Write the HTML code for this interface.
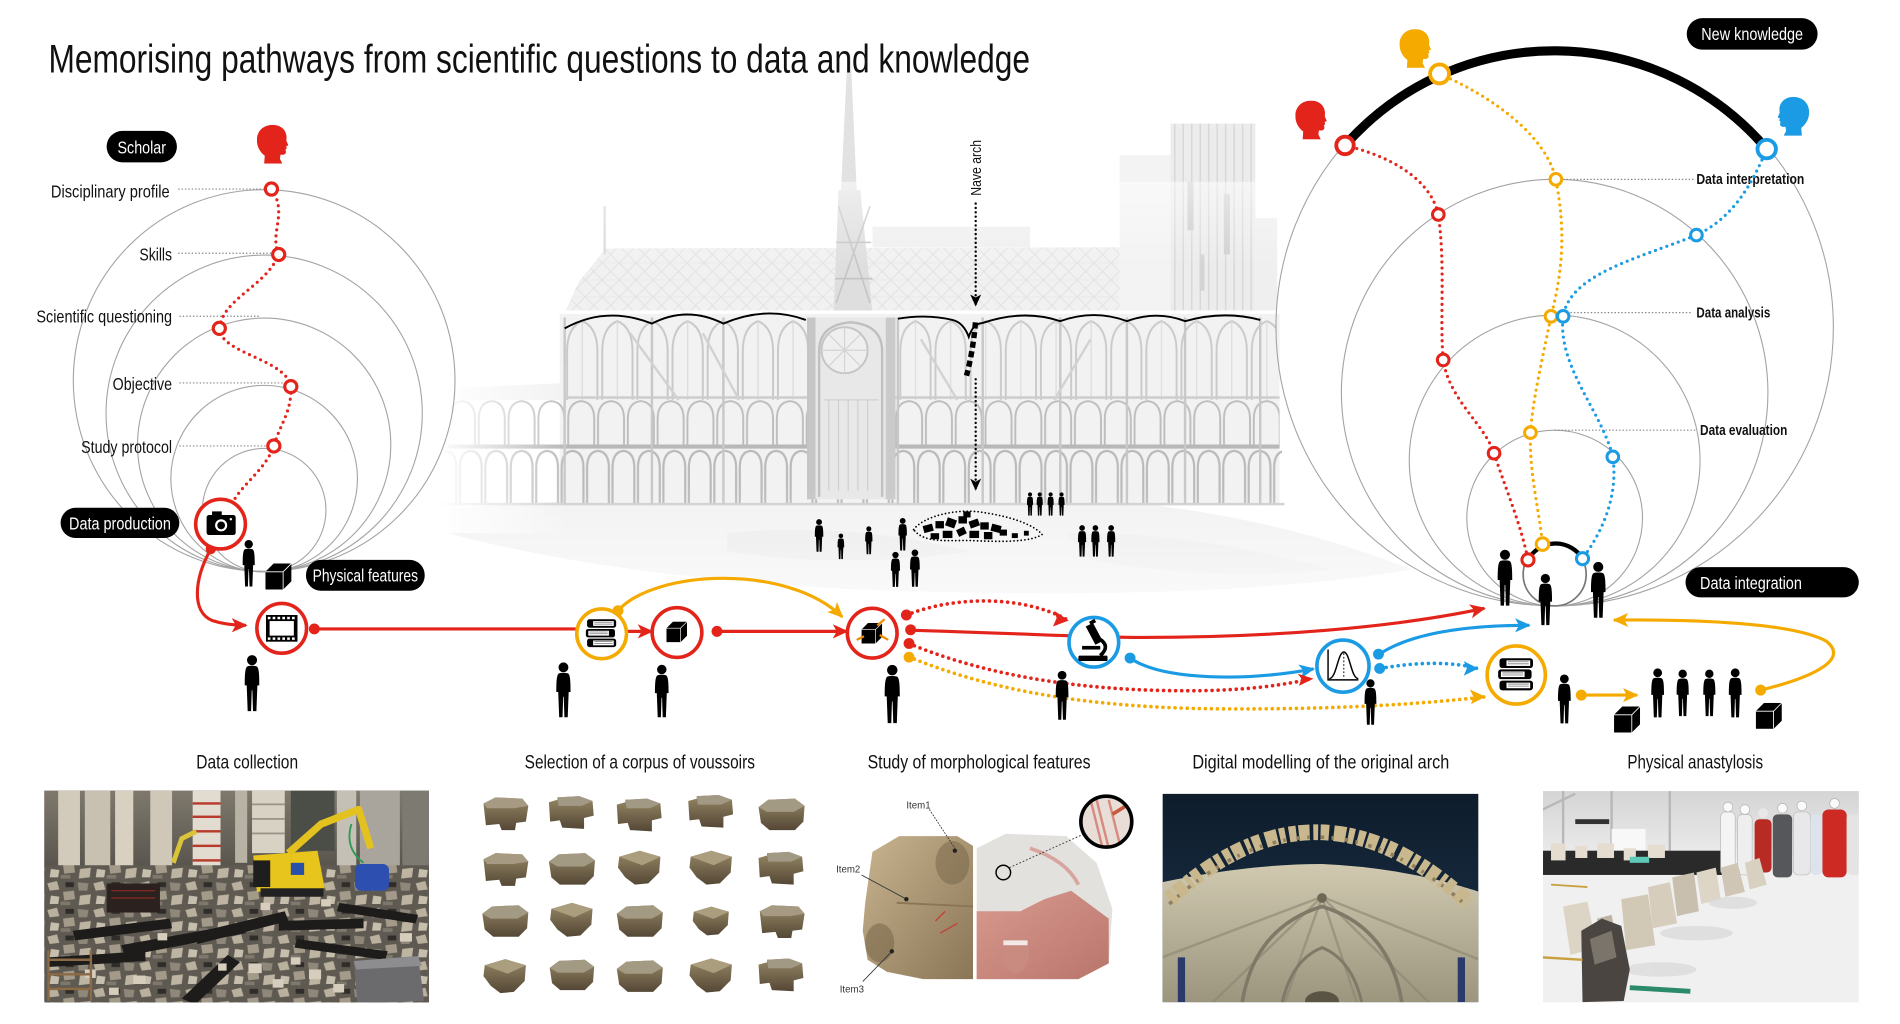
<!DOCTYPE html>
<html><head><meta charset="utf-8"><style>
html,body{margin:0;padding:0;background:#fff;overflow:hidden;}
svg{display:block;}
</style></head><body>
<svg width="1900" height="1024" viewBox="0 0 1568 845" preserveAspectRatio="none" xmlns="http://www.w3.org/2000/svg" xmlns:xlink="http://www.w3.org/1999/xlink" font-family="'Liberation Sans Narrow','Liberation Sans',sans-serif">
<defs>
<marker id="mR" viewBox="0 0 10 10" refX="9" refY="5" markerWidth="13" markerHeight="13" markerUnits="userSpaceOnUse" orient="auto"><path d="M0,0.5 L10,5 L0,9.5 L2.5,5 Z" fill="#e3241b"/></marker>
<marker id="mY" viewBox="0 0 10 10" refX="9" refY="5" markerWidth="13" markerHeight="13" markerUnits="userSpaceOnUse" orient="auto"><path d="M0,0.5 L10,5 L0,9.5 L2.5,5 Z" fill="#f5aa00"/></marker>
<marker id="mB" viewBox="0 0 10 10" refX="9" refY="5" markerWidth="13" markerHeight="13" markerUnits="userSpaceOnUse" orient="auto"><path d="M0,0.5 L10,5 L0,9.5 L2.5,5 Z" fill="#1b9be4"/></marker>
<marker id="mK" viewBox="0 0 10 10" refX="9" refY="5" markerWidth="10" markerHeight="10" markerUnits="userSpaceOnUse" orient="auto"><path d="M0,0.5 L10,5 L0,9.5 L2.5,5 Z" fill="#000"/></marker>

<symbol id="p" viewBox="0 0 20 60"><circle cx="10" cy="6" r="5.2"/><path d="M5,12.5 C7,11.5 13,11.5 15,12.5 C17,14 17.5,20 17.5,32 L15.5,32 L14.5,58.5 L11,58.5 L10.3,37 L9.7,37 L9,58.5 L5.5,58.5 L4.5,32 L2.5,32 C2.5,20 3,14 5,12.5 Z"/></symbol>
<symbol id="cube" viewBox="0 0 22 22"><polygon points="0,7 7,0 22,0 22,15 15,22 0,22" fill="#000"/><polyline points="0,7 15,7 22,0" fill="none" stroke="#fff" stroke-width="0.7"/><line x1="15" y1="7" x2="15" y2="22" stroke="#fff" stroke-width="0.7"/></symbol>
<symbol id="head" viewBox="0 0 26 32"><path d="M6,32 L6.5,25.5 C2.5,22.5 0,18 0,12.5 C0,5 5.5,0 13,0 C20,0 24.5,4.5 24.5,10.5 L24.3,13 L26,17 L24.2,17.6 L24.6,19.6 L23.6,20.4 L24,22.2 C24,24.3 22.3,25 19.5,24.6 L19,28 L21,32 Z"/></symbol>

<linearGradient id="stoneG" x1="0" y1="0" x2="0" y2="1"><stop offset="0" stop-color="#978866"/><stop offset="1" stop-color="#544735"/></linearGradient>
<symbol id="s1" viewBox="0 0 40 30"><path d="M2,7 L12,2 L34,3 L39,9 L37,22 L29,23 L28,29 L17,29 L15,24 L4,25 Z" fill="url(#stoneG)"/><path d="M2,7 L12,2 L34,3 L39,9 L27,11 L5,11 Z" fill="#a69b82"/></symbol>
<symbol id="s2" viewBox="0 0 40 30"><path d="M1,9 L9,3 L31,2 L39,8 L38,21 L31,28 L10,28 L3,22 Z" fill="url(#stoneG)"/><path d="M1,9 L9,3 L31,2 L39,8 L30,13 L8,13 Z" fill="#a39a84"/></symbol>
<symbol id="s3" viewBox="0 0 40 30"><path d="M3,6 L20,1 L37,6 L36,19 L27,28 L16,29 L8,23 L2,15 Z" fill="url(#stoneG)"/><path d="M3,6 L20,1 L37,6 L22,13 Z" fill="#ab9e7e"/></symbol>
<symbol id="s4" viewBox="0 0 40 30"><path d="M1,6 L8,4 L8,2 L26,1 L37,5 L38,17 L30,19 L30,28 L12,27 L10,21 L2,22 Z" fill="url(#stoneG)"/><path d="M8,2 L26,1 L37,5 L28,9 L9,9 Z" fill="#a29985"/></symbol>

<pattern id="rub" width="38" height="22" patternUnits="userSpaceOnUse">
<rect width="38" height="22" fill="#5e5951"/>
<path d="M1,3 L9,1 L11,8 L3,9 Z" fill="#b9b09e"/>
<path d="M14,10 L23,9 L24,16 L15,17 Z" fill="#a39a89"/>
<path d="M26,2 L35,3 L34,9 L27,9 Z" fill="#8e877a"/>
<path d="M4,13 L11,14 L10,20 L3,20 Z" fill="#c7bfae"/>
<rect x="16" y="2" width="7" height="4" fill="#2f2c29"/>
<path d="M28,13 L37,12 L36,20 L27,21 Z" fill="#bdb4a2"/>
<rect x="12" y="18" width="8" height="3" fill="#7f786d"/>
</pattern>

<pattern id="bayL" x="466" y="264" width="29" height="66" patternUnits="userSpaceOnUse"><path d="M2,66 V26 Q2,6 14.5,1 Q27,6 27,26 V66" fill="none" stroke="#c8c8c8" stroke-width="1.6"/><path d="M14.5,1 V66" stroke="#dadada" stroke-width="1"/></pattern>
<pattern id="bayR" x="741" y="264" width="29" height="66" patternUnits="userSpaceOnUse"><path d="M2,66 V26 Q2,6 14.5,1 Q27,6 27,26 V66" fill="none" stroke="#cacaca" stroke-width="1.6"/><path d="M14.5,1 V66" stroke="#dcdcdc" stroke-width="1"/></pattern>
<pattern id="tri" x="0" y="330" width="24.6" height="37" patternUnits="userSpaceOnUse"><path d="M1.5,37 V16 Q1.5,2 12.3,1 Q23,2 23,16 V37" fill="none" stroke="#bdbdbd" stroke-width="1.6"/></pattern>
<pattern id="arc" x="0" y="371" width="21" height="45" patternUnits="userSpaceOnUse"><path d="M1.5,45 V15 Q1.5,2 10.5,1 Q19.5,2 19.5,15 V45" fill="none" stroke="#bababa" stroke-width="1.8"/></pattern>
<pattern id="lat" x="0" y="0" width="14" height="14" patternUnits="userSpaceOnUse"><path d="M0,14 L14,0 M0,0 L14,14" stroke="#e0e0e0" stroke-width="0.7"/><path d="M0,7 H14" stroke="#e4e4e4" stroke-width="0.5"/></pattern>
<pattern id="vl" x="0" y="0" width="7" height="20" patternUnits="userSpaceOnUse"><path d="M3.5,0 V20" stroke="#d8d8d8" stroke-width="1.2"/></pattern>

<linearGradient id="fadeL" x1="0" y1="0" x2="1" y2="0"><stop offset="0" stop-color="#fff" stop-opacity="1"/><stop offset="1" stop-color="#fff" stop-opacity="0"/></linearGradient>
<linearGradient id="fadeB" x1="0" y1="0" x2="0" y2="1"><stop offset="0" stop-color="#fff" stop-opacity="0"/><stop offset="1" stop-color="#fff" stop-opacity="1"/></linearGradient>
<linearGradient id="fadeT" x1="0" y1="0" x2="0" y2="1"><stop offset="0" stop-color="#fff" stop-opacity="1"/><stop offset="1" stop-color="#fff" stop-opacity="0"/></linearGradient>
<linearGradient id="navy" x1="0" y1="0" x2="0" y2="1"><stop offset="0" stop-color="#0e1c2b"/><stop offset="1" stop-color="#1c354d"/></linearGradient>
<linearGradient id="vault" x1="0" y1="0" x2="0" y2="1"><stop offset="0" stop-color="#d0c9b0"/><stop offset="1" stop-color="#9c957e"/></linearGradient>
<linearGradient id="tent" x1="0" y1="0" x2="0" y2="1"><stop offset="0" stop-color="#d4d4d4"/><stop offset="1" stop-color="#ececec"/></linearGradient>
<linearGradient id="leftSt" x1="0" y1="0" x2="1" y2="1"><stop offset="0" stop-color="#c8b48f"/><stop offset="1" stop-color="#8a7656"/></linearGradient>
<linearGradient id="pink" x1="0" y1="0" x2="1" y2="1"><stop offset="0" stop-color="#d99a90"/><stop offset="1" stop-color="#b9756b"/></linearGradient>
<linearGradient id="top1" x1="0" y1="0" x2="0" y2="1"><stop offset="0" stop-color="#7f796d"/><stop offset="1" stop-color="#55514a"/></linearGradient>

<clipPath id="c1"><rect x="36.6" y="652.5" width="317.4" height="174.7"/></clipPath>
<clipPath id="c4"><rect x="959.5" y="655" width="260.5" height="172"/></clipPath>
<clipPath id="c5"><rect x="1273.4" y="652.8" width="260.6" height="174.4"/></clipPath>
<clipPath id="cmag"><circle cx="913" cy="678" r="20"/></clipPath>
</defs>

<rect x="0" y="0" width="1568" height="845" fill="#fff"/>

<!-- ================= CATHEDRAL BACKGROUND ================= -->
<g>
  <path d="M370,420 Q600,402 800,410 Q1000,405 1165,470 Q1000,498 700,486 Q500,475 370,440 Z" fill="#f2f2f2"/>
  <path d="M600,440 Q700,430 800,455 Q700,470 600,455 Z" fill="#ebebeb"/>
  <path d="M880,440 Q980,438 1100,470 Q1000,480 900,462 Z" fill="#ededed"/>
  <!-- roof -->
  <polygon points="466,258 478,232 500,205 924,204 924,258" fill="#f1f1f1"/>
  <polygon points="466,258 478,232 500,205 924,204 924,258" fill="url(#lat)"/>
  <rect x="720" y="187" width="130" height="17" fill="#efefef"/>
  <line x1="499" y1="170" x2="499" y2="210" stroke="#dadada" stroke-width="2"/>
  <!-- spire -->
  <polygon points="699.5,45 702,45 707,157 694,157" fill="#e2e2e2"/>
  <polygon points="688,258 692,157 710,157 720,258" fill="#dedede"/>
  <path d="M692,170 L718,250 M718,170 L690,250 M690,200 H719 M689,230 H720" stroke="#c4c4c4" stroke-width="1.3" fill="none"/>
  <!-- tower -->
  <rect x="924" y="128" width="44" height="130" fill="#f3f3f3"/>
  <rect x="966" y="102" width="70" height="156" fill="#ececec"/>
  <rect x="966" y="102" width="70" height="156" fill="url(#vl)"/>
  <rect x="1036" y="180" width="18" height="78" fill="#efefef"/>
  <rect x="980" y="150" width="5" height="40" fill="#cdcdcd"/>
  <rect x="1010" y="160" width="5" height="50" fill="#d0d0d0"/>
  <rect x="990" y="210" width="4" height="30" fill="#d4d4d4"/>
  <!-- main wall -->
  <rect x="462" y="259" width="594" height="158" fill="#f2f2f2"/>
  <rect x="466" y="264" width="200" height="66" fill="url(#bayL)"/>
  <rect x="741" y="264" width="312" height="66" fill="url(#bayR)"/>
  <rect x="372" y="330" width="684" height="37" fill="url(#tri)"/>
  <rect x="366" y="371" width="692" height="45" fill="url(#arc)"/>
  <line x1="380" y1="328" x2="1056" y2="328" stroke="#cdcdcd" stroke-width="2"/>
  <line x1="370" y1="368.5" x2="1056" y2="368.5" stroke="#b8b8b8" stroke-width="3.5"/>
  <line x1="366" y1="416" x2="1060" y2="416" stroke="#d0d0d0" stroke-width="2"/>
  <!-- left aisle -->
  <polygon points="366,330 380,320 466,316 466,330" fill="#f2f2f2"/>
  <!-- facade -->
  <rect x="666" y="262" width="73" height="150" fill="#e8e8e8"/>
  <rect x="666" y="262" width="7" height="150" fill="#c6c6c6"/>
  <rect x="731" y="262" width="8" height="150" fill="#cacaca"/>
  <path d="M676,410 V290 Q676,268 702,266 Q728,268 728,290 V410" fill="none" stroke="#c0c0c0" stroke-width="2"/>
  <circle cx="697" cy="289" r="19" fill="#efefef" stroke="#c4c4c4" stroke-width="1.5"/>
  <path d="M678,289 H716 M697,270 V308 M684,276 L710,302 M710,276 L684,302" stroke="#d4d4d4" stroke-width="1"/>
  <path d="M680,330 H725 M684,330 V405 M692,330 V405 M700,330 V405 M708,330 V405 M716,330 V405" stroke="#d0d0d0" stroke-width="1"/>
  <!-- buttress verticals -->
  <path d="M466,262 V416 M538,262 V416 M597,262 V416 M741,262 V416 M811,262 V416 M875,262 V416 M930,262 V416 M978,262 V416 M1040,262 V416" stroke="#c8c8c8" stroke-width="2"/>
  <path d="M520,275 L560,330 M580,275 L610,330 M760,280 L790,330 M900,280 L870,330" stroke="#d2d2d2" stroke-width="2"/>
  <!-- white band -->
  <line x1="462" y1="257.5" x2="1056" y2="257.5" stroke="#fff" stroke-width="2.5"/>
  <!-- fades -->
  <rect x="360" y="300" width="110" height="140" fill="url(#fadeL)"/>
  <rect x="460" y="150" width="600" height="70" fill="url(#fadeT)" opacity="0.5"/>
  <rect x="360" y="405" width="820" height="90" fill="url(#fadeB)" opacity="0.6"/>
  <!-- black arch lines -->
  <path d="M466,271 Q500,252 538,267 Q567,252 597,267 Q632,252 665,264" fill="none" stroke="#000" stroke-width="1.6"/>
  <path d="M741,263 Q765,259 786,264 Q795,266 799.5,278 Q803,267 811,266.5 Q845,255 875,265 Q903,255 930,265 Q955,256 978,265 Q1010,256 1040,264" fill="none" stroke="#000" stroke-width="1.6"/>
</g>

<!-- Nave arch -->
<text transform="translate(809.5,138.5) rotate(-90)" text-anchor="middle" font-size="12.5" textLength="46" lengthAdjust="spacingAndGlyphs" fill="#111">Nave arch</text>
<path d="M805.2,168 L805.2,252" stroke="#000" stroke-width="2" stroke-dasharray="0 3.6" stroke-linecap="round" marker-end="url(#mK)"/>
<path d="M805,266 Q803,290 797.6,310" stroke="#000" stroke-width="4.5" stroke-dasharray="5 3" fill="none"/>
<path d="M805.2,313 L805.2,404" stroke="#000" stroke-width="2" stroke-dasharray="0 3.6" stroke-linecap="round" marker-end="url(#mK)"/>

<!-- voussoir pile -->
<path d="M754,437 C762,426 790,419 812,423 C832,426 852,432 860,441 C850,448 822,447 800,446 C780,446 762,448 754,437 Z" fill="none" stroke="#000" stroke-width="1.5" stroke-dasharray="0 3" stroke-linecap="round"/>
<g fill="#000">
<rect x="762" y="433" width="8" height="6" transform="rotate(-15 766 436)"/><rect x="772" y="430" width="7" height="6"/><rect x="781" y="428" width="8" height="7" transform="rotate(20 785 431)"/><rect x="791" y="426" width="7" height="6"/><rect x="800" y="429" width="8" height="6" transform="rotate(-20 804 432)"/><rect x="809" y="431" width="7" height="6"/><rect x="818" y="433" width="8" height="6" transform="rotate(15 822 436)"/><rect x="768" y="440" width="7" height="5"/><rect x="778" y="438" width="8" height="6"/><rect x="790" y="436" width="7" height="6" transform="rotate(-25 793 439)"/><rect x="800" y="438" width="8" height="6"/><rect x="812" y="439" width="7" height="6"/><rect x="825" y="437" width="6" height="5"/><rect x="835" y="440" width="5" height="4"/><rect x="845" y="438" width="4" height="4"/><rect x="795" y="422" width="6" height="5"/>
</g>

<!-- ================= LEFT CIRCLES ================= -->
<g fill="none" stroke="#a3a3a3" stroke-width="0.9">
  <circle cx="218" cy="314" r="157.5"/>
  <circle cx="218" cy="341" r="130.5"/>
  <circle cx="218" cy="367" r="104.5"/>
  <circle cx="218" cy="395" r="77"/>
  <circle cx="218" cy="421" r="51"/>
</g>
<g stroke="#888" stroke-width="1" stroke-dasharray="1.2 1.6" fill="none">
  <path d="M147,156 H219"/><path d="M147,209 H225"/><path d="M148,261 H214"/><path d="M148,316 H236"/><path d="M148,368 H221"/>
</g>
<g font-size="14.5" fill="#111" text-anchor="end">
  <text x="140" y="163" textLength="98" lengthAdjust="spacingAndGlyphs">Disciplinary profile</text>
  <text x="142" y="215" textLength="27" lengthAdjust="spacingAndGlyphs">Skills</text>
  <text x="142" y="266" textLength="112" lengthAdjust="spacingAndGlyphs">Scientific questioning</text>
  <text x="142" y="322" textLength="49" lengthAdjust="spacingAndGlyphs">Objective</text>
  <text x="142" y="374" textLength="75" lengthAdjust="spacingAndGlyphs">Study protocol</text>
</g>
<path d="M224,156 C238,176 222,192 230,210 C220,236 184,246 181,271 C182,292 236,296 240,319 C241,340 231,350 226,368 C220,386 200,400 193,413" fill="none" stroke="#e3241b" stroke-width="2.6" stroke-dasharray="0 5" stroke-linecap="round"/>
<g fill="#fff" stroke="#e3241b" stroke-width="2.6">
  <circle cx="224" cy="156" r="5"/><circle cx="230" cy="210" r="5"/><circle cx="181" cy="271" r="5"/><circle cx="240" cy="319" r="5"/><circle cx="226" cy="368" r="5"/>
</g>
<use href="#head" xlink:href="#head" x="212" y="103" width="26" height="32" fill="#e3241b"/>
<rect x="88" y="108" width="58" height="26" rx="13" fill="#000"/>
<text x="117" y="126.5" text-anchor="middle" font-size="14.5" fill="#fff" textLength="40" lengthAdjust="spacingAndGlyphs">Scholar</text>

<rect x="50" y="419" width="98" height="25" rx="12.5" fill="#000"/>
<text x="99" y="437" text-anchor="middle" font-size="14.5" fill="#fff" textLength="84" lengthAdjust="spacingAndGlyphs">Data production</text>
<rect x="252.5" y="462" width="98" height="25.5" rx="12.5" fill="#000"/>
<text x="301.5" y="480" text-anchor="middle" font-size="14.5" fill="#fff" textLength="87" lengthAdjust="spacingAndGlyphs">Physical features</text>

<!-- ================= RIGHT CIRCLES ================= -->
<g fill="none" stroke="#a3a3a3" stroke-width="0.9">
  <circle cx="1283" cy="270" r="230"/>
  <circle cx="1283" cy="324" r="176"/>
  <circle cx="1283" cy="380" r="120"/>
  <circle cx="1283" cy="427.5" r="72.5"/>
</g>
<circle cx="1283" cy="474" r="26" fill="none" stroke="#777" stroke-width="1.4"/>
<path d="M1110,120 A230,230 0 0 1 1458,123" fill="none" stroke="#000" stroke-width="7.5"/>
<path d="M1261,462 A26,26 0 0 1 1306,461" fill="none" stroke="#000" stroke-width="3.5"/>
<g stroke="#888" stroke-width="1" stroke-dasharray="1.2 1.6" fill="none">
  <path d="M1290,148 H1398"/><path d="M1296,258 H1396"/><path d="M1283,355 H1400"/>
</g>
<g font-size="12" font-weight="bold" fill="#111" font-family="'Liberation Sans',sans-serif">
  <text x="1400" y="152" textLength="89" lengthAdjust="spacingAndGlyphs">Data interpretation</text>
  <text x="1400" y="262" textLength="61" lengthAdjust="spacingAndGlyphs">Data analysis</text>
  <text x="1403" y="359" textLength="72" lengthAdjust="spacingAndGlyphs">Data evaluation</text>
</g>
<path d="M1188,61 C1232,80 1276,112 1284,148 C1292,190 1290,222 1280,261 C1272,300 1265,330 1263,357 C1262,390 1270,420 1273,449" fill="none" stroke="#f5aa00" stroke-width="2.6" stroke-dasharray="0 5" stroke-linecap="round"/>
<path d="M1110,120 C1152,130 1181,150 1187,177 C1193,220 1188,262 1191,297 C1196,330 1225,350 1233,374 C1242,402 1255,432 1261,462" fill="none" stroke="#e3241b" stroke-width="2.6" stroke-dasharray="0 5" stroke-linecap="round"/>
<path d="M1458,123 C1446,152 1430,180 1400,194 C1350,214 1296,226 1290,261 C1285,302 1322,340 1331,377 C1336,412 1320,442 1306,461" fill="none" stroke="#1b9be4" stroke-width="2.6" stroke-dasharray="0 5" stroke-linecap="round"/>
<g fill="#fff" stroke-width="3.2">
  <circle cx="1110" cy="120" r="7.2" stroke="#e3241b"/>
  <circle cx="1188" cy="61" r="7.8" stroke="#f5aa00"/>
  <circle cx="1458" cy="123" r="7.6" stroke="#1b9be4"/>
</g>
<g fill="#fff" stroke-width="2.5">
  <circle cx="1284" cy="148" r="4.8" stroke="#f5aa00"/><circle cx="1280" cy="261" r="4.8" stroke="#f5aa00"/><circle cx="1263" cy="357" r="4.8" stroke="#f5aa00"/><circle cx="1273" cy="449" r="5.2" stroke="#f5aa00"/>
  <circle cx="1187" cy="177" r="4.8" stroke="#e3241b"/><circle cx="1191" cy="297" r="4.8" stroke="#e3241b"/><circle cx="1233" cy="374" r="4.8" stroke="#e3241b"/><circle cx="1261" cy="462" r="5" stroke="#e3241b"/>
  <circle cx="1400" cy="194" r="4.8" stroke="#1b9be4"/><circle cx="1290" cy="261" r="4.8" stroke="#1b9be4"/><circle cx="1331" cy="377" r="4.8" stroke="#1b9be4"/><circle cx="1306" cy="461" r="5" stroke="#1b9be4"/>
</g>
<use href="#head" xlink:href="#head" x="1069" y="83" width="26" height="32" fill="#e3241b"/>
<use href="#head" xlink:href="#head" x="1155" y="24" width="26" height="32" fill="#f5aa00"/>
<g transform="translate(1493,80) scale(-1,1)"><use href="#head" xlink:href="#head" x="0" y="0" width="26" height="32" fill="#1b9be4"/></g>

<rect x="1392" y="15" width="108" height="26" rx="13" fill="#000"/>
<text x="1446" y="33" text-anchor="middle" font-size="14.5" fill="#fff" textLength="84" lengthAdjust="spacingAndGlyphs">New knowledge</text>
<rect x="1391" y="468" width="143" height="25" rx="12.5" fill="#000"/>
<text x="1445" y="486" text-anchor="middle" font-size="14.5" fill="#fff" textLength="84" lengthAdjust="spacingAndGlyphs">Data integration</text>

<!-- ================= TITLE ================= -->
<text x="40" y="60" font-size="33" fill="#111" textLength="810" lengthAdjust="spacingAndGlyphs">Memorising pathways from scientific questions to data and knowledge</text>

<!-- ================= FLOW LINES ================= -->
<g fill="none" stroke-width="2.6">
  <path d="M174,453 C160,478 158,505 175,512 C184,515 192,516 203,516" stroke="#e3241b" marker-end="url(#mR)"/>
  <path d="M259,519 L480,519" stroke="#e3241b"/>
  <path d="M517,521 L538,521" stroke="#e3241b" marker-end="url(#mR)"/>
  <path d="M510,504 C540,470 650,465 695,509" stroke="#f5aa00" marker-end="url(#mY)"/>
  <path d="M592,521 L699,521" stroke="#e3241b" marker-end="url(#mR)"/>
  <path d="M748,507.5 C790,491 845,492 880,511" stroke="#e3241b" stroke-dasharray="0 5" stroke-linecap="round" stroke-width="3"/>
  <path d="M751,520 C850,523 900,526 940,526 C1050,526 1150,518 1225,502" stroke="#e3241b" marker-end="url(#mR)"/>
  <path d="M750,531 C820,560 900,570 980,570 C1030,570 1060,565 1083,560" stroke="#e3241b" stroke-dasharray="0 5" stroke-linecap="round" stroke-width="3"/>
  <path d="M750,542 C830,575 920,585 1020,585 C1120,585 1180,580 1226,575" stroke="#f5aa00" stroke-dasharray="0 5" stroke-linecap="round" stroke-width="3"/>
  <path d="M932.6,543 C960,562 1030,562 1084,552" stroke="#1b9be4" marker-end="url(#mB)"/>
  <path d="M1138,540 C1165,522 1210,516 1262,516" stroke="#1b9be4" marker-end="url(#mB)"/>
  <path d="M1139,551.6 C1170,546 1200,546 1219,551.6" stroke="#1b9be4" stroke-dasharray="0 5" stroke-linecap="round" stroke-width="3"/>
  <path d="M1305,573.6 L1351,573.6" stroke="#f5aa00" marker-end="url(#mY)"/>
  <path d="M1453,569.5 C1492,560 1528,545 1507,529 C1480,514 1400,511 1332,511.7" stroke="#f5aa00" marker-end="url(#mY)"/>
</g>
<path d="M870,504 L882,512 L869,517 L872,510 Z" fill="#e3241b"/>
<path d="M1071,556 L1084,560 L1072,566 L1074,560 Z" fill="#e3241b"/>
<path d="M1213,569 L1226,575 L1214,581 L1216,575 Z" fill="#f5aa00"/>
<path d="M1208,545.6 L1220,551.6 L1208,557.6 L1210.5,551.6 Z" fill="#1b9be4"/>

<g>
  <circle cx="174" cy="453" r="4.3" fill="#e3241b"/>
  <circle cx="259.4" cy="519" r="4.5" fill="#e3241b"/>
  <circle cx="510" cy="504" r="4.5" fill="#f5aa00"/>
  <circle cx="591.7" cy="521" r="4.5" fill="#e3241b"/>
  <circle cx="748" cy="507.5" r="4.5" fill="#e3241b"/>
  <circle cx="751.5" cy="519.7" r="4.5" fill="#e3241b"/>
  <circle cx="750.2" cy="531" r="4.5" fill="#e3241b"/>
  <circle cx="750.2" cy="542.3" r="4.5" fill="#f5aa00"/>
  <circle cx="932.6" cy="543" r="4.5" fill="#1b9be4"/>
  <circle cx="1137.6" cy="539.8" r="4.5" fill="#1b9be4"/>
  <circle cx="1138.6" cy="551.6" r="4.5" fill="#1b9be4"/>
  <circle cx="1305" cy="573.6" r="4.5" fill="#f5aa00"/>
  <circle cx="1453" cy="569.5" r="4.5" fill="#f5aa00"/>
</g>

<g fill="#fff" stroke-width="3">
  <circle cx="182" cy="432.5" r="20.5" stroke="#e3241b"/>
  <circle cx="232.5" cy="518.5" r="20.5" stroke="#e3241b"/>
  <circle cx="496.5" cy="523" r="20.5" stroke="#f5aa00"/>
  <circle cx="558.7" cy="522" r="20.5" stroke="#e3241b"/>
  <circle cx="719.8" cy="522.5" r="20.5" stroke="#e3241b"/>
  <circle cx="902.7" cy="530" r="20.5" stroke="#1b9be4"/>
  <circle cx="1108.3" cy="549.7" r="21.5" stroke="#1b9be4"/>
  <circle cx="1251.3" cy="557" r="24" stroke="#f5aa00"/>
</g>
<rect x="170.5" y="425" width="24" height="16.5" rx="2" fill="#000"/>
<rect x="175" y="422" width="8" height="4" fill="#000"/>
<circle cx="182.5" cy="433.5" r="5" fill="#fff"/><circle cx="182.5" cy="433.5" r="3.2" fill="#000"/>
<circle cx="190.5" cy="428.5" r="1" fill="#fff"/>
<rect x="219.5" y="507.5" width="26" height="22" fill="#000"/>
<rect x="222.5" y="512.5" width="20" height="12" fill="#fff"/>
<g fill="#fff"><rect x="221" y="509" width="2.2" height="2"/><rect x="225" y="509" width="2.2" height="2"/><rect x="229" y="509" width="2.2" height="2"/><rect x="233" y="509" width="2.2" height="2"/><rect x="237" y="509" width="2.2" height="2"/><rect x="241" y="509" width="2.2" height="2"/>
<rect x="221" y="526" width="2.2" height="2"/><rect x="225" y="526" width="2.2" height="2"/><rect x="229" y="526" width="2.2" height="2"/><rect x="233" y="526" width="2.2" height="2"/><rect x="237" y="526" width="2.2" height="2"/><rect x="241" y="526" width="2.2" height="2"/></g>
<g transform="translate(496.5,523)">
  <rect x="-12" y="-12" width="24" height="7" rx="2" fill="#000"/><rect x="-7" y="-10.5" width="17" height="4" fill="#fff"/><path d="M-6,-9.5 H9 M-6,-8 H9" stroke="#777" stroke-width="0.6"/>
  <rect x="-13" y="-4" width="24" height="7" rx="2" fill="#000"/><rect x="-11" y="-2.5" width="17" height="4" fill="#fff"/><path d="M-10,-1.5 H5 M-10,0 H5" stroke="#777" stroke-width="0.6"/>
  <rect x="-12" y="4" width="24" height="7" rx="2" fill="#000"/><rect x="-7" y="5.5" width="17" height="4" fill="#fff"/><path d="M-6,6.5 H9 M-6,8 H9" stroke="#777" stroke-width="0.6"/>
</g>
<g transform="translate(1251.3,557) scale(1.15)">
  <rect x="-12" y="-12" width="24" height="7" rx="2" fill="#000"/><rect x="-7" y="-10.5" width="17" height="4" fill="#fff"/><path d="M-6,-9.5 H9 M-6,-8 H9" stroke="#777" stroke-width="0.6"/>
  <rect x="-13" y="-4" width="24" height="7" rx="2" fill="#000"/><rect x="-11" y="-2.5" width="17" height="4" fill="#fff"/><path d="M-10,-1.5 H5 M-10,0 H5" stroke="#777" stroke-width="0.6"/>
  <rect x="-12" y="4" width="24" height="7" rx="2" fill="#000"/><rect x="-7" y="5.5" width="17" height="4" fill="#fff"/><path d="M-6,6.5 H9 M-6,8 H9" stroke="#777" stroke-width="0.6"/>
</g>
<use href="#cube" xlink:href="#cube" x="550" y="513" width="17" height="17"/>
<use href="#cube" xlink:href="#cube" x="711" y="514" width="17" height="17"/>
<path d="M707,528 L713,525 M724,516 L730,511 M726,524 L733,528" stroke="#f08a00" stroke-width="1.8"/>
<g fill="#000">
  <rect x="890" y="541" width="24" height="4.5" rx="1"/>
  <polygon points="896,517 902,514 910,529 904,532"/>
  <rect x="893" y="533" width="15" height="3"/>
  <path d="M907,527 Q917,533 908,541" fill="none" stroke="#000" stroke-width="3"/>
  <rect x="899" y="512" width="5" height="3" transform="rotate(-28 901 513)"/>
</g>
<g fill="none" stroke="#000" stroke-width="1.2">
  <path d="M1096,536 V561 H1121"/>
  <path d="M1097,560 C1103,560 1104,538 1109,538 C1114,538 1115,560 1121,560"/>
  <path d="M1109,539 V560" stroke-dasharray="1.5 1.5" stroke-width="0.8"/>
</g>

<g fill="#000">
  <use href="#p" xlink:href="#p" x="198.6" y="445" width="13.3" height="40"/>
  <use href="#p" xlink:href="#p" x="200" y="540" width="16" height="48"/>
  <use href="#p" xlink:href="#p" x="457" y="546" width="16" height="47"/>
  <use href="#p" xlink:href="#p" x="538.5" y="548" width="15.3" height="45"/>
  <use href="#p" xlink:href="#p" x="728" y="548" width="16.7" height="50"/>
  <use href="#p" xlink:href="#p" x="869.5" y="553" width="14" height="42"/>
  <use href="#p" xlink:href="#p" x="1124" y="560" width="14" height="39"/>
  <use href="#p" xlink:href="#p" x="1284" y="556" width="14" height="42"/>
  <use href="#p" xlink:href="#p" x="1361" y="551" width="14" height="42"/>
  <use href="#p" xlink:href="#p" x="1382" y="552" width="13.3" height="40"/>
  <use href="#p" xlink:href="#p" x="1404" y="552" width="13.3" height="40"/>
  <use href="#p" xlink:href="#p" x="1425" y="551" width="14" height="42"/>
  <use href="#p" xlink:href="#p" x="1234" y="453" width="16" height="48"/>
  <use href="#p" xlink:href="#p" x="1268" y="473" width="14.7" height="44"/>
  <use href="#p" xlink:href="#p" x="1311" y="463" width="16" height="48"/>
  <use href="#p" xlink:href="#p" x="671.3" y="428" width="9.3" height="28"/>
  <use href="#p" xlink:href="#p" x="690.3" y="440" width="7.3" height="22"/>
  <use href="#p" xlink:href="#p" x="713" y="434" width="8" height="24"/>
  <use href="#p" xlink:href="#p" x="740.3" y="427" width="9.3" height="28"/>
  <use href="#p" xlink:href="#p" x="734" y="455" width="10" height="30"/>
  <use href="#p" xlink:href="#p" x="749.7" y="453" width="10.7" height="32"/>
  <use href="#p" xlink:href="#p" x="846.7" y="406" width="6.7" height="20"/>
  <use href="#p" xlink:href="#p" x="854.7" y="406" width="6.7" height="20"/>
  <use href="#p" xlink:href="#p" x="863.7" y="406" width="6.7" height="20"/>
  <use href="#p" xlink:href="#p" x="872.7" y="406" width="6.7" height="20"/>
  <use href="#p" xlink:href="#p" x="888.5" y="433" width="9" height="27"/>
  <use href="#p" xlink:href="#p" x="899.5" y="433" width="9" height="27"/>
  <use href="#p" xlink:href="#p" x="912.5" y="433" width="9" height="27"/>
</g>
<use href="#cube" xlink:href="#cube" x="219" y="465" width="21.5" height="21.5"/>
<use href="#cube" xlink:href="#cube" x="1332" y="583" width="21.5" height="21.5"/>
<use href="#cube" xlink:href="#cube" x="1449" y="580" width="21.5" height="21.5"/>

<g font-size="16" fill="#111" text-anchor="middle">
  <text x="204" y="634" textLength="84" lengthAdjust="spacingAndGlyphs">Data collection</text>
  <text x="528" y="634" textLength="190" lengthAdjust="spacingAndGlyphs">Selection of a corpus of voussoirs</text>
  <text x="808" y="634" textLength="184" lengthAdjust="spacingAndGlyphs">Study of morphological features</text>
  <text x="1090" y="634" textLength="212" lengthAdjust="spacingAndGlyphs">Digital modelling of the original arch</text>
  <text x="1399" y="634" textLength="112" lengthAdjust="spacingAndGlyphs">Physical anastylosis</text>
</g>

<!-- ================= PHOTO 1 ================= -->
<g clip-path="url(#c1)">
  <rect x="36" y="652" width="320" height="176" fill="#4f4c47"/>
  <rect x="36" y="652" width="320" height="70" fill="url(#top1)"/>
  <rect x="48" y="652" width="18" height="66" fill="#d2cbbb"/>
  <rect x="70" y="652" width="21" height="66" fill="#c8c1b1"/>
  <rect x="95" y="652" width="15" height="66" fill="#d8d1c2"/>
  <rect x="124" y="652" width="18" height="66" fill="#cfc8b8"/>
  <rect x="159" y="652" width="23" height="70" fill="#e2dcd0"/>
  <g fill="#b83a2b"><rect x="159" y="662" width="23" height="2"/><rect x="159" y="673" width="23" height="2"/><rect x="159" y="685" width="23" height="2"/><rect x="159" y="697" width="23" height="2"/><rect x="159" y="709" width="23" height="2"/></g>
  <rect x="194" y="652" width="10" height="60" fill="#b8b2a5"/>
  <rect x="208" y="652" width="27" height="52" fill="#d8d2c4"/>
  <g fill="#9a9488"><rect x="208" y="663" width="27" height="1.5"/><rect x="208" y="675" width="27" height="1.5"/><rect x="208" y="687" width="27" height="1.5"/></g>
  <rect x="240" y="652" width="36" height="50" fill="#4a4e46"/>
  <rect x="278" y="652" width="16" height="70" fill="#c5c0b5"/>
  <rect x="297" y="652" width="33" height="72" fill="#a9a59c"/>
  <rect x="332" y="652" width="22" height="70" fill="#7d7a72"/>
  <path d="M143,712 L150,692 L162,686" fill="none" stroke="#d9c43a" stroke-width="4"/>
  <rect x="36" y="714" width="320" height="114" fill="url(#rub)"/>
  <rect x="88" y="729" width="44" height="24" fill="#2b2220"/>
  <path d="M92,735 H128 M92,741 H128" stroke="#8a2a22" stroke-width="1"/>
  <polygon points="209,706 262,702 268,733 212,736" fill="#e8c51c"/>
  <rect x="209" y="710" width="14" height="22" fill="#1e1e1e"/>
  <rect x="240" y="712" width="11" height="10" fill="#2850a8"/>
  <path d="M238,704 L265,680 L296,668 L306,700" fill="none" stroke="#e3c11e" stroke-width="6" stroke-linejoin="round"/>
  <path d="M290,680 Q284,700 300,712" fill="none" stroke="#2e9a55" stroke-width="1.5"/>
  <rect x="293" y="713" width="28" height="22" rx="5" fill="#2d4fb0"/>
  <rect x="215" y="733" width="52" height="7" fill="#222"/>
  <g fill="#1d1c1b">
    <polygon points="60,768 140,758 142,766 62,776"/>
    <polygon points="100,780 200,762 203,770 103,789"/>
    <polygon points="160,770 235,752 238,760 163,779"/>
    <polygon points="230,760 300,758 300,766 230,768"/>
    <polygon points="280,745 345,755 343,762 278,752"/>
    <polygon points="150,824 188,788 198,794 161,829"/>
    <polygon points="40,790 120,785 120,793 40,798"/>
    <polygon points="245,775 320,785 318,792 243,782"/>
  </g>
  <g fill="#d6cdbc">
    <rect x="70" y="800" width="9" height="7"/><rect x="110" y="805" width="10" height="7"/><rect x="205" y="795" width="11" height="8"/><rect x="225" y="808" width="9" height="7"/><rect x="255" y="800" width="10" height="8"/><rect x="275" y="812" width="9" height="7"/><rect x="240" y="790" width="8" height="6"/><rect x="130" y="770" width="8" height="6"/><rect x="180" y="795" width="7" height="6"/><rect x="215" y="745" width="8" height="6"/><rect x="265" y="742" width="8" height="6"/><rect x="330" y="770" width="10" height="7"/><rect x="90" y="815" width="8" height="6"/>
  </g>
  <g stroke="#8b6a45" stroke-width="2"><path d="M40,784 V826 M75,784 V826 M40,792 H75 M40,804 H75 M40,816 H75"/></g>
  <polygon points="292,793 345,789 350,826 295,828" fill="#6b6b6d"/>
  <polygon points="292,793 345,789 348,797 294,800" fill="#8d8d8f"/>
</g>

<!-- ================= PHOTO 2 ================= -->
<g>
  <use href="#s1" xlink:href="#s1" x="397" y="656" width="40" height="30"/>
  <use href="#s4" xlink:href="#s4" x="452" y="656" width="40" height="30"/>
  <use href="#s4" xlink:href="#s4" x="508" y="658" width="40" height="30"/>
  <use href="#s4" xlink:href="#s4" x="567" y="655" width="40" height="30"/>
  <use href="#s2" xlink:href="#s2" x="625" y="657" width="40" height="30"/>
  <use href="#s1" xlink:href="#s1" x="397" y="702" width="40" height="30"/>
  <use href="#s2" xlink:href="#s2" x="452" y="702" width="40" height="30"/>
  <use href="#s3" xlink:href="#s3" x="508" y="701" width="40" height="30"/>
  <use href="#s3" xlink:href="#s3" x="567" y="701" width="40" height="30"/>
  <use href="#s4" xlink:href="#s4" x="625" y="702" width="40" height="30"/>
  <use href="#s2" xlink:href="#s2" x="397" y="745" width="40" height="30"/>
  <use href="#s3" xlink:href="#s3" x="452" y="744" width="40" height="30"/>
  <use href="#s2" xlink:href="#s2" x="508" y="745" width="40" height="30"/>
  <use href="#s3" xlink:href="#s3" x="570" y="744" width="34" height="32"/>
  <use href="#s1" xlink:href="#s1" x="625" y="745" width="40" height="30"/>
  <use href="#s3" xlink:href="#s3" x="397" y="790" width="40" height="31"/>
  <use href="#s2" xlink:href="#s2" x="452" y="790" width="40" height="29"/>
  <use href="#s2" xlink:href="#s2" x="508" y="790" width="40" height="31"/>
  <use href="#s3" xlink:href="#s3" x="567" y="790" width="40" height="30"/>
  <use href="#s4" xlink:href="#s4" x="625" y="790" width="40" height="30"/>
</g>

<!-- ================= PHOTO 3 ================= -->
<g>
  <path d="M714,745 L720,703 L742,690 L790,690 L803,698 L803,808 L762,808 L732,802 L716,792 L712,768 Z" fill="url(#leftSt)"/>
  <ellipse cx="786" cy="712" rx="14" ry="18" fill="#6f5f45" opacity="0.45"/>
  <ellipse cx="726" cy="778" rx="12" ry="16" fill="#6b5a40" opacity="0.45"/>
  <path d="M740,745 L803,748" stroke="#8a7656" stroke-width="1.5"/>
  <path d="M772,760 L780,752 M776,770 L790,762" stroke="#c0453a" stroke-width="1.2"/>
  <path d="M806,700 L830,688 L880,690 L905,712 L918,750 L915,795 L890,808 L806,808 Z" fill="#e3e1de"/>
  <path d="M806,752 L842,752 L862,742 L884,735 L915,758 L915,795 L890,808 L806,808 Z" fill="url(#pink)"/>
  <path d="M850,700 Q880,710 890,730" fill="none" stroke="#d7a59e" stroke-width="3"/>
  <ellipse cx="838" cy="787" rx="11" ry="16" fill="#c98a80"/>
  <rect x="828" y="776" width="20" height="4" fill="#f2e8e6"/>
  <circle cx="828" cy="720" r="6" fill="none" stroke="#000" stroke-width="1.2"/>
  <path d="M833,716 L895,688" stroke="#444" stroke-width="0.8" stroke-dasharray="1.5 1.5"/>
  <circle cx="913" cy="678" r="21" fill="#e9ddd8"/>
  <g clip-path="url(#cmag)"><path d="M900,660 L910,700 M905,660 L915,700 M915,660 L925,700" stroke="#d78a7e" stroke-width="2"/><path d="M918,672 L934,662" stroke="#c75a3e" stroke-width="3"/></g>
  <circle cx="913" cy="678" r="21" fill="none" stroke="#000" stroke-width="3"/>
  <g font-size="8" fill="#333" font-family="'Liberation Sans',sans-serif">
    <text x="748" y="667">Item1</text><text x="690" y="720">Item2</text><text x="693" y="819">Item3</text>
  </g>
  <path d="M767,668 L788,700" stroke="#333" stroke-width="0.7" stroke-dasharray="1.5 1"/>
  <path d="M711,722 L748,742" stroke="#333" stroke-width="0.7"/>
  <path d="M712,810 L736,785" stroke="#333" stroke-width="0.7"/>
  <circle cx="788" cy="702" r="1.8" fill="#222"/><circle cx="748" cy="742" r="1.8" fill="#222"/><circle cx="736" cy="785" r="1.8" fill="#222"/>
</g>

<!-- ================= PHOTO 4 ================= -->
<g clip-path="url(#c4)">
  <rect x="959" y="655" width="262" height="173" fill="url(#navy)"/>
  <path d="M959,828 L959,728 Q1030,713 1091,713 Q1160,716 1221,736 L1221,828 Z" fill="url(#vault)"/>
  <path d="M1091,740 L959,790 M1091,740 L1000,828 M1091,740 L1060,828 M1091,740 L1120,828 M1091,740 L1180,828 M1091,740 L1221,792" stroke="#8a8470" stroke-width="2" opacity="0.6"/>
  <path d="M1025,828 Q1035,765 1091,748 Q1147,765 1157,828" fill="none" stroke="#7f7a68" stroke-width="3"/>
  <path d="M1058,828 Q1066,792 1091,782 Q1116,792 1124,828" fill="none" stroke="#7f7a68" stroke-width="2.5"/>
  <ellipse cx="1091" cy="826" rx="14" ry="8" fill="#5a5444"/>
  <circle cx="1091" cy="741" r="4" fill="#6d6756"/>
  <path d="M965,742 Q1087,630 1212,745" fill="none" stroke="#c9b78e" stroke-width="13" stroke-dasharray="6 2 9 3 4 2 7 4 10 2 5 3"/>
  <path d="M965,742 Q1087,630 1212,745" fill="none" stroke="#8f7f5e" stroke-width="3" stroke-dasharray="3 6 2 9" transform="translate(0,4)"/>
  <path d="M975,827 L975,790 M1206,827 L1206,790" stroke="#2a3a6a" stroke-width="6"/>
</g>

<!-- ================= PHOTO 5 ================= -->
<g clip-path="url(#c5)">
  <rect x="1273" y="652" width="262" height="176" fill="#f0f0f0"/>
  <rect x="1273" y="652" width="262" height="56" fill="url(#tent)"/>
  <path d="M1290,652 V705 M1330,652 V700 M1378,652 V702 M1273,668 L1300,655" stroke="#b8b8b8" stroke-width="2"/>
  <rect x="1300" y="676" width="28" height="4" fill="#333"/>
  <rect x="1330" y="684" width="28" height="18" fill="#f8f8f8"/>
  <rect x="1273" y="702" width="150" height="20" fill="#2a2a2a"/>
  <g fill="#e4ddd0"><rect x="1280" y="696" width="12" height="14"/><rect x="1300" y="698" width="10" height="10"/><rect x="1318" y="696" width="14" height="12"/><rect x="1340" y="700" width="10" height="10"/><rect x="1360" y="697" width="14" height="11"/></g>
  <rect x="1345" y="707" width="16" height="5" fill="#5fc9b8"/>
  <g>
    <rect x="1420" y="670" width="12" height="52" rx="4" fill="#f4f4f4" stroke="#bbb" stroke-width="0.6"/>
    <rect x="1434" y="672" width="12" height="50" rx="4" fill="#eeeeee" stroke="#bbb" stroke-width="0.6"/>
    <rect x="1448" y="676" width="14" height="44" rx="4" fill="#b82a24"/>
    <rect x="1463" y="672" width="16" height="52" rx="4" fill="#55575a"/>
    <rect x="1480" y="670" width="14" height="52" rx="4" fill="#e8e8ea" stroke="#bbb" stroke-width="0.6"/>
    <rect x="1494" y="672" width="10" height="50" rx="4" fill="#dde3ea"/>
    <rect x="1504" y="668" width="20" height="56" rx="5" fill="#cc2a22"/>
    <rect x="1524" y="672" width="12" height="50" rx="4" fill="#e4e4e4"/>
    <g fill="#fafafa" stroke="#aaa" stroke-width="0.5"><circle cx="1426" cy="666" r="4"/><circle cx="1440" cy="668" r="4"/><circle cx="1471" cy="667" r="4"/><circle cx="1487" cy="665" r="4"/><circle cx="1514" cy="663" r="4"/></g>
    <circle cx="1455" cy="671" r="4" fill="#e8e8e8"/>
  </g>
  <g>
    <polygon points="1440,712 1452,708 1458,730 1444,734" fill="#d8d0c0"/>
    <polygon points="1420,716 1434,712 1440,736 1424,740" fill="#cfc6b5"/>
    <polygon points="1400,720 1416,716 1420,742 1404,746" fill="#ddd5c6"/>
    <polygon points="1380,724 1398,720 1402,752 1384,756" fill="#c9bfae"/>
    <polygon points="1360,732 1378,728 1384,762 1364,766" fill="#d6cdbc"/>
    <polygon points="1338,742 1360,738 1366,780 1342,784" fill="#d2c8b6"/>
    <polygon points="1290,748 1310,744 1318,782 1296,788" fill="#dcd4c4"/>
    <polygon points="1318,758 1330,755 1334,775 1320,778" fill="#bdb3a2"/>
  </g>
  <g fill="#d8d8d8" opacity="0.7"><ellipse cx="1400" cy="770" rx="30" ry="6"/><ellipse cx="1430" cy="745" rx="20" ry="5"/><ellipse cx="1370" cy="800" rx="30" ry="6"/></g>
  <polygon points="1305,768 1322,758 1338,764 1345,800 1340,826 1306,827" fill="#4a4540"/>
  <polygon points="1312,775 1330,768 1334,790 1316,796" fill="#7b746a"/>
  <path d="M1345,815 L1395,818" stroke="#2a8a6a" stroke-width="4"/>
  <path d="M1273,790 L1306,792" stroke="#c9a040" stroke-width="2"/>
  <path d="M1280,730 L1310,732" stroke="#c9a040" stroke-width="1.5"/>
</g>

</svg>
</body></html>
